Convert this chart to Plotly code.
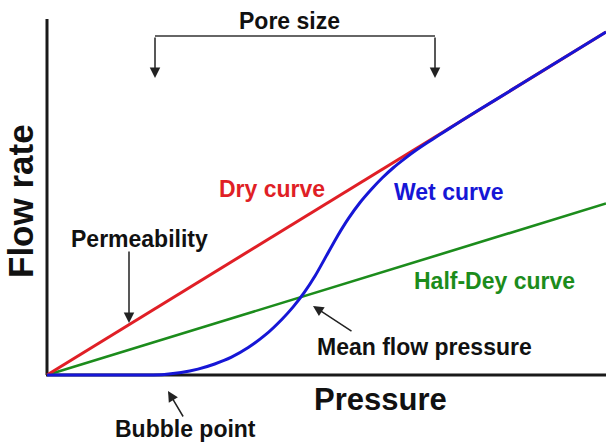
import plotly.graph_objects as go

# ---- data ----
pressure = [0, 1.0, 1.8, 2.1, 2.4, 2.7, 3.0, 3.3, 3.6, 3.9, 4.2, 4.4, 4.6, 4.8, 5.0, 5.2,
            5.4, 5.6, 5.8, 6.0, 6.2, 6.4, 6.6, 6.8, 7.0, 7.2, 7.4, 8.0, 9.0, 10.0]
wet_flow = [0, 0, 0, 0.015, 0.07, 0.17, 0.32, 0.52, 0.80, 1.16, 1.62, 1.98, 2.4, 2.9, 3.48, 4.06,
            4.58, 5.03, 5.41, 5.75, 6.05, 6.31, 6.55, 6.77, 6.98, 7.19, 7.4, 8.0, 9.0, 10.0]
dry_x = [0, 10]
dry_flow = [0, 10]
half_x = [0, 10]
half_flow = [0, 5]

# ---- pixel <-> data helpers (layout only) ----
X0, XS = 47, 55.9   # pixel of x=0, pixels per unit
Y0, YS = 375, 34.3  # pixel of y=0, pixels per unit
W, H = 606, 444

def dx(px):
    return (px - X0) / XS

def dy(py):
    return (Y0 - py) / YS

RED = "#e01f26"
BLUE = "#1616d6"
GREEN = "#1c8c1c"
FONT = "Liberation Sans, Arial, sans-serif"

fig = go.Figure()
fig.add_trace(go.Scatter(x=half_x, y=half_flow, mode="lines",
                         line=dict(color=GREEN, width=2.6), hoverinfo="skip"))
fig.add_trace(go.Scatter(x=dry_x, y=dry_flow, mode="lines",
                         line=dict(color=RED, width=3), hoverinfo="skip"))
fig.add_trace(go.Scatter(x=pressure, y=wet_flow, mode="lines",
                         line=dict(color=BLUE, width=3, shape="spline", smoothing=0.5),
                         hoverinfo="skip"))

# axes as lines
shapes = [
    dict(type="line", x0=0, y0=0, x1=0, y1=dy(19), xref="x", yref="y",
         line=dict(color="#1a1a1a", width=3), layer="below"),
    dict(type="line", x0=dx(46), y0=0, x1=dx(606), y1=0, xref="x", yref="y",
         line=dict(color="#1a1a1a", width=3), layer="below"),
    # pore size bracket horizontal
    dict(type="line", x0=dx(155), y0=dy(36), x1=dx(435), y1=dy(36), xref="x", yref="y",
         line=dict(color="#333333", width=1.5)),
]

def label(text, px, py, color="#111111", size=23, angle=0):
    return dict(text="<b>%s</b>" % text, x=dx(px), y=dy(py), xref="x", yref="y",
                showarrow=False, xanchor="center", yanchor="middle", textangle=angle,
                font=dict(family=FONT, size=size, color=color))

def arrow(tail, head):
    return dict(text="", x=dx(head[0]), y=dy(head[1]), ax=dx(tail[0]), ay=dy(tail[1]),
                xref="x", yref="y", axref="x", ayref="y", showarrow=True,
                arrowhead=2, arrowsize=1.4, arrowwidth=1.5, arrowcolor="#222222")

annotations = [
    label("Pore size", 289, 21, size=23),
    label("Dry curve", 272, 189, color=RED),
    label("Wet curve", 449, 192, color=BLUE),
    label("Half-Dey curve", 494, 281, color=GREEN),
    label("Permeability", 139, 239),
    label("Mean flow pressure", 424, 347),
    label("Bubble point", 185, 429),
    label("Pressure", 380, 399, size=31),
    label("Flow rate", 20, 201, size=35, angle=-90),
    arrow((155, 36), (155, 78)),
    arrow((435, 36), (435, 78)),
    arrow((129, 250), (129, 323)),
    arrow((353, 332), (313, 306)),
    arrow((184, 418), (168, 391)),
]

fig.update_layout(
    width=W, height=H,
    margin=dict(l=0, r=0, t=0, b=0),
    paper_bgcolor="white", plot_bgcolor="white",
    showlegend=False,
    xaxis=dict(range=[dx(0), dx(W)], visible=False, fixedrange=True),
    yaxis=dict(range=[dy(H), dy(0)], visible=False, fixedrange=True),
    shapes=shapes,
    annotations=annotations,
)

fig.write_html("out.html", config={"displayModeBar": False},
               post_script="document.body.style.margin='0';document.body.style.overflow='hidden';")
